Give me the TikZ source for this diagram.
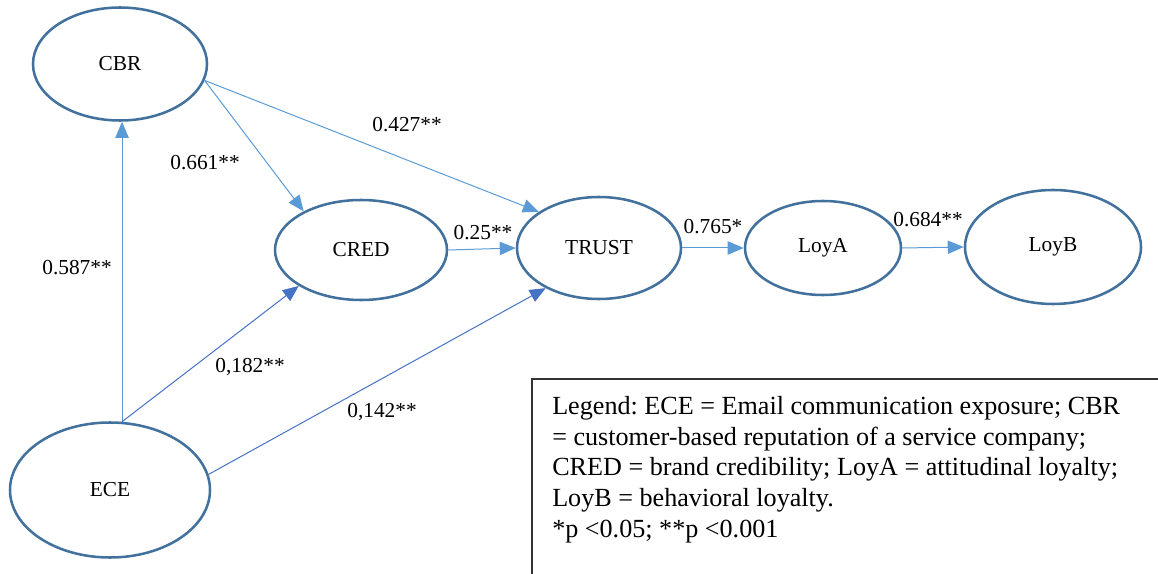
\documentclass[tikz,border=0pt]{standalone}
\usepackage{fontspec}
\setmainfont{Liberation Serif}
\usetikzlibrary{shapes.geometric,arrows.meta}
\definecolor{ovalblue}{RGB}{65,113,156}
\definecolor{pathlight}{RGB}{91,155,213}
\definecolor{pathdark}{RGB}{68,114,196}
\frenchspacing
\tikzset{
  latent/.style={ellipse, draw=ovalblue, line width=1.9pt, inner sep=0pt,
    font=\fontsize{16}{19}\selectfont},
  coef/.style={inner sep=0pt, font=\fontsize{16}{19}\selectfont},
  effect/.style={draw=pathlight, line width=0.75pt, -{Triangle[length=12pt,width=10pt]}},
  ecefx/.style={effect, draw=pathdark},
  legendbox/.style={draw=black!80, line width=1.2pt},
  legendtext/.style={inner sep=0pt, align=left, font=\fontsize{19.6}{23}\selectfont}
}
\begin{document}
\begin{tikzpicture}[x=0.75pt, y=-0.75pt]
    \clip (0,0) rectangle (1158,574);

    % constructs
    \node[latent, minimum width=130.5pt, minimum height=84.75pt] (CBR) at (120,64) {CBR};
    \node[latent, minimum width=129pt, minimum height=75pt] (CRED) at (361,250) {CRED};
    \node[latent, minimum width=123pt, minimum height=76.5pt] (TRUST) at (599,248) {TRUST};
    \node[latent, minimum width=117pt, minimum height=70.5pt] (LoyA) at (823,248) {LoyA};
    \node[latent, minimum width=132pt, minimum height=85.5pt] (LoyB) at (1053,247) {LoyB};
    \node[latent, minimum width=150pt, minimum height=101.25pt] (ECE) at (110,490) {ECE};

    % paths
    \draw[effect] (ECE.80) -- (ECE.80 |- CBR.south);
    \draw[effect] (CBR.-11) -- (CRED.146);
    \draw[effect] (CBR.-11) -- (TRUST.149);
    \draw[effect] (CRED.east) -- (TRUST.west);
    \draw[effect] (TRUST.east) -- (LoyA.west);
    \draw[effect] (LoyA.east) -- (LoyB.west);
    \draw[ecefx] (ECE.80) -- (CRED.210);
    \draw[ecefx] (ECE.9) -- (TRUST.217);

    % coefficients
    \node[coef] (c587) at (77,268) {0.587**};
    \node[coef] (c661) at (205,163) {0.661**};
    \node[coef] (c427) at (407,125) {0.427**};
    \node[coef] (c25) at (483,233) {0.25**};
    \node[coef] (c765) at (713,227) {0.765*};
    \node[coef] (c684) at (928,220) {0.684**};
    \node[coef] (c182) at (250,367) {0,182**};
    \node[coef] (c142) at (382,412) {0,142**};

    % legend
    \draw[legendbox] (532,379) rectangle (1180,600);
    \node[legendtext, anchor=north west] (legend) at (552,396)
      {Legend: ECE = Email communication exposure; CBR\\
       = customer-based reputation of a service company;\\
       CRED = brand credibility; LoyA = attitudinal loyalty;\\
       LoyB = behavioral loyalty.\\
       *p <0.05; **p <0.001};
\end{tikzpicture}
\end{document}
